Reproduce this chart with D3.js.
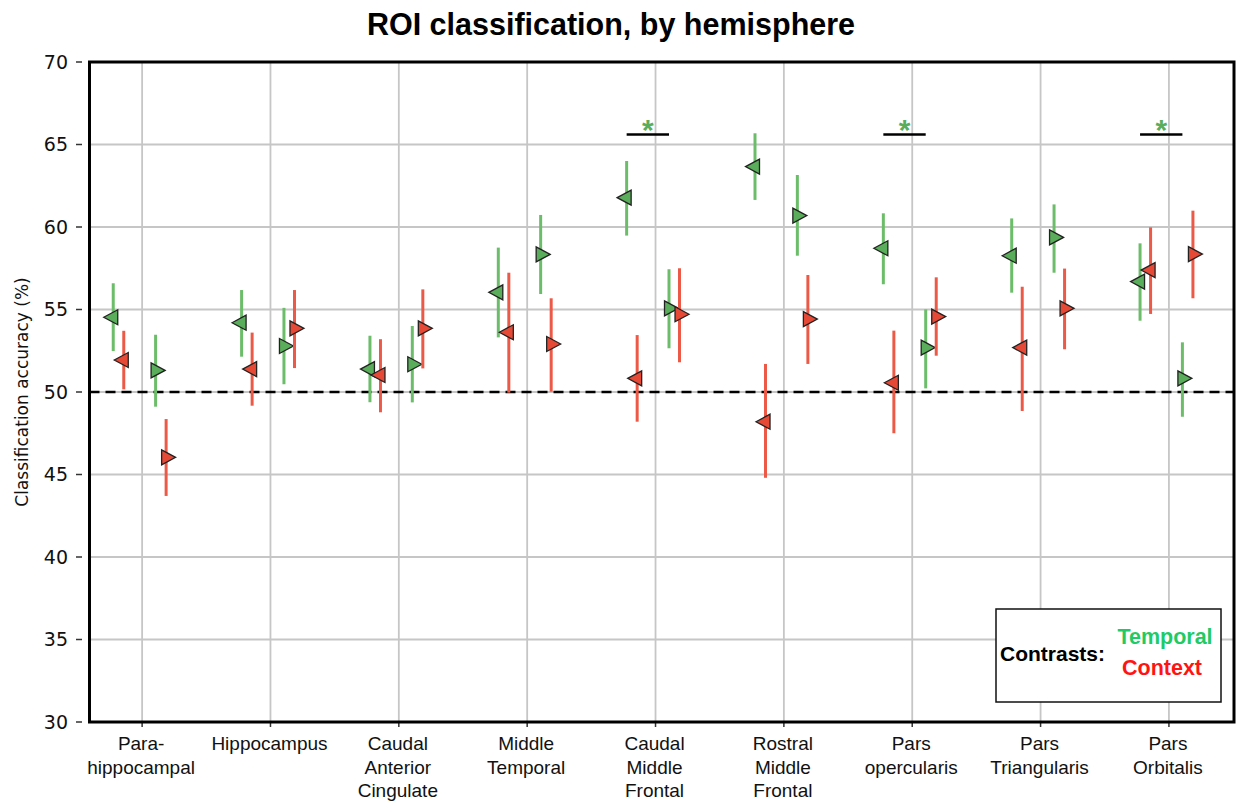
<!DOCTYPE html>
<html>
<head>
<meta charset="utf-8">
<script src="https://cdn.jsdelivr.net/npm/d3@7"></script>
<style>
	body { margin: 0; background: #fff; }
	text { font-family: "Liberation Sans", Arial, sans-serif; }
	.dv { font-family: "DejaVu Sans", sans-serif; }
</style>
</head>
<body>
<div id="chart"></div>
<script>
// regions (tick labels, one entry per line)
const regions = [
	['Para-', 'hippocampal'],
	['Hippocampus'],
	['Caudal', 'Anterior', 'Cingulate'],
	['Middle', 'Temporal'],
	['Caudal', 'Middle', 'Frontal'],
	['Rostral', 'Middle', 'Frontal'],
	['Pars', 'opercularis'],
	['Pars', 'Triangularis'],
	['Pars', 'Orbitalis']
]

// left-pointing markers
const tempLeft = [54.53, 54.2, 51.39, 56.04, 61.78, 63.66, 58.71, 58.26, 56.69]
const tempLeftLo = [52.48, 52.14, 49.38, 53.31, 59.48, 61.64, 56.53, 56.02, 54.32]
const tempLeftHi = [56.59, 56.18, 53.41, 58.75, 64.0, 65.68, 60.83, 60.52, 59.01]

const ctxLeft = [51.94, 51.39, 51.03, 53.62, 50.83, 48.2, 50.56, 52.69, 57.39]
const ctxLeftLo = [50.16, 49.17, 48.77, 49.96, 48.2, 44.8, 47.5, 48.85, 54.73]
const ctxLeftHi = [53.71, 53.6, 53.2, 57.23, 53.45, 51.7, 53.72, 56.38, 59.98]

// right-pointing markers
const tempRight = [51.31, 52.79, 51.68, 58.34, 55.07, 60.69, 52.69, 59.37, 50.83]
const tempRightLo = [49.11, 50.47, 49.37, 55.94, 52.65, 58.26, 50.22, 57.23, 48.5]
const tempRightHi = [53.47, 55.1, 54.0, 60.73, 57.44, 63.15, 55.01, 61.37, 53.01]

const ctxRight = [46.04, 53.86, 53.86, 52.91, 54.71, 54.42, 54.57, 55.07, 58.36]
const ctxRightLo = [43.7, 51.45, 51.43, 50.02, 51.8, 51.7, 52.2, 52.59, 55.68]
const ctxRightHi = [48.36, 56.18, 56.22, 55.68, 57.5, 57.09, 56.95, 57.48, 60.99]

// significant temporal differences
const sigRegions = [4, 6, 8]
const sigLevel = 65.6

const yTicks = [30, 35, 40, 45, 50, 55, 60, 65, 70]
const chance = 50

const W = 1239, H = 804
const green = '#5aad5a', greenBar = '#6cbd6a'
const red = '#e64a37', redBar = '#ec5a47'

const series = [
	{ mean: tempLeft, lo: tempLeftLo, hi: tempLeftHi, off: -0.225, dir: -1, fill: green, bar: greenBar },
	{ mean: ctxLeft, lo: ctxLeftLo, hi: ctxLeftHi, off: -0.143, dir: -1, fill: red, bar: redBar },
	{ mean: tempRight, lo: tempRightLo, hi: tempRightHi, off: 0.105, dir: 1, fill: green, bar: greenBar },
	{ mean: ctxRight, lo: ctxRightLo, hi: ctxRightHi, off: 0.187, dir: 1, fill: red, bar: redBar }
]

const svg = d3.select('#chart')
	.append('svg')
	.attr('width', W)
	.attr('height', H)

const x = d3.scaleLinear()
	.domain([-0.41, 8.507])
	.range([89.5, 1234])

const y = d3.scaleLinear()
	.domain([30, 70])
	.range([722, 62])

// grid
svg.append('g')
	.selectAll('line')
	.data(yTicks)
	.enter()
	.append('line')
	.attr('x1', x.range()[0]).attr('x2', x.range()[1])
	.attr('y1', d => y(d)).attr('y2', d => y(d))
	.attr('stroke', '#c6c6c6')
	.attr('stroke-width', 1.8)

svg.append('g')
	.selectAll('line')
	.data(regions)
	.enter()
	.append('line')
	.attr('x1', (d, i) => x(i)).attr('x2', (d, i) => x(i))
	.attr('y1', y(70)).attr('y2', y(30))
	.attr('stroke', '#c6c6c6')
	.attr('stroke-width', 1.8)

// chance line
svg.append('line')
	.attr('x1', x.range()[0]).attr('x2', x.range()[1])
	.attr('y1', y(chance)).attr('y2', y(chance))
	.attr('stroke', '#000')
	.attr('stroke-width', 2.5)
	.attr('stroke-dasharray', '10,6')

// y axis ticks + labels
const yAxis = svg.append('g')
yAxis.selectAll('line')
	.data(yTicks)
	.enter()
	.append('line')
	.attr('x1', 76).attr('x2', 82)
	.attr('y1', d => y(d)).attr('y2', d => y(d))
	.attr('stroke', '#333')
	.attr('stroke-width', 1.5)
yAxis.selectAll('text')
	.data(yTicks)
	.enter()
	.append('text')
	.attr('class', 'dv')
	.attr('x', 68)
	.attr('y', d => y(d))
	.attr('dy', '0.36em')
	.attr('text-anchor', 'end')
	.attr('font-size', 19)
	.attr('fill', '#111')
	.text(d => d)

svg.append('text')
	.attr('class', 'dv')
	.attr('transform', `translate(28,${y(50)}) rotate(-90)`)
	.attr('text-anchor', 'middle')
	.attr('font-size', 17)
	.attr('fill', '#111')
	.text('Classification accuracy (%)')

// x ticks + labels
const xAxis = svg.append('g')
xAxis.selectAll('line')
	.data(regions)
	.enter()
	.append('line')
	.attr('x1', (d, i) => x(i)).attr('x2', (d, i) => x(i))
	.attr('y1', 722).attr('y2', 727)
	.attr('stroke', '#333')
	.attr('stroke-width', 1.5)
xAxis.selectAll('text')
	.data(regions)
	.enter()
	.append('text')
	.attr('text-anchor', 'middle')
	.attr('font-size', 19)
	.attr('fill', '#111')
	.each(function (lines, i) {
		d3.select(this).selectAll('tspan')
			.data(lines)
			.enter()
			.append('tspan')
			.attr('x', x(i) - 1)
			.attr('y', (l, j) => 750 + j * 23.5)
			.text(l => l)
	})

// error bars + markers
series.forEach(s => {
	const g = svg.append('g')
	g.selectAll('line')
		.data(s.mean)
		.enter()
		.append('line')
		.attr('x1', (d, i) => x(i + s.off)).attr('x2', (d, i) => x(i + s.off))
		.attr('y1', (d, i) => y(s.lo[i])).attr('y2', (d, i) => y(s.hi[i]))
		.attr('stroke', s.bar)
		.attr('stroke-width', 3)
	g.selectAll('path')
		.data(s.mean)
		.enter()
		.append('path')
		.attr('transform', (d, i) => `translate(${x(i + s.off)},${y(d)})`)
		.attr('d', s.dir < 0 ? 'M-9.5,0L4.5,-7.5L4.5,7.5Z' : 'M9.5,0L-4.5,-7.5L-4.5,7.5Z')
		.attr('fill', s.fill)
		.attr('stroke', '#222')
		.attr('stroke-width', 1.3)
		.attr('stroke-linejoin', 'miter')
})

// significance markers
const sig = svg.append('g')
sig.selectAll('line')
	.data(sigRegions)
	.enter()
	.append('line')
	.attr('x1', d => x(d + series[0].off)).attr('x2', d => x(d + series[2].off))
	.attr('y1', y(sigLevel)).attr('y2', y(sigLevel))
	.attr('stroke', '#000')
	.attr('stroke-width', 2.5)
sig.selectAll('text')
	.data(sigRegions)
	.enter()
	.append('text')
	.attr('x', d => x(d + (series[0].off + series[2].off) / 2))
	.attr('y', y(sigLevel) + 5)
	.attr('text-anchor', 'middle')
	.attr('font-size', 30)
	.attr('font-weight', 'bold')
	.attr('fill', green)
	.text('*')

// frame
svg.append('rect')
	.attr('x', x.range()[0]).attr('y', y(70))
	.attr('width', x.range()[1] - x.range()[0])
	.attr('height', y(30) - y(70))
	.attr('fill', 'none')
	.attr('stroke', '#000')
	.attr('stroke-width', 3)

// legend
const legend = svg.append('g')
legend.append('rect')
	.attr('x', 996).attr('y', 609)
	.attr('width', 225).attr('height', 93)
	.attr('fill', '#fff')
	.attr('stroke', '#111')
	.attr('stroke-width', 1.5)
legend.append('text')
	.attr('x', 1000).attr('y', 661)
	.attr('font-size', 21).attr('font-weight', 'bold')
	.attr('fill', '#000')
	.text('Contrasts:')
legend.append('text')
	.attr('x', 1165).attr('y', 644)
	.attr('text-anchor', 'middle')
	.attr('font-size', 21.5).attr('font-weight', 'bold')
	.attr('fill', '#1fcb66')
	.text('Temporal')
legend.append('text')
	.attr('x', 1162).attr('y', 675)
	.attr('text-anchor', 'middle')
	.attr('font-size', 21.5).attr('font-weight', 'bold')
	.attr('fill', '#ff1414')
	.text('Context')

// title
svg.append('text')
	.attr('x', 611).attr('y', 35)
	.attr('text-anchor', 'middle')
	.attr('font-size', 30.5)
	.attr('font-weight', 'bold')
	.attr('fill', '#000')
	.text('ROI classification, by hemisphere')
</script>
</body>
</html>
